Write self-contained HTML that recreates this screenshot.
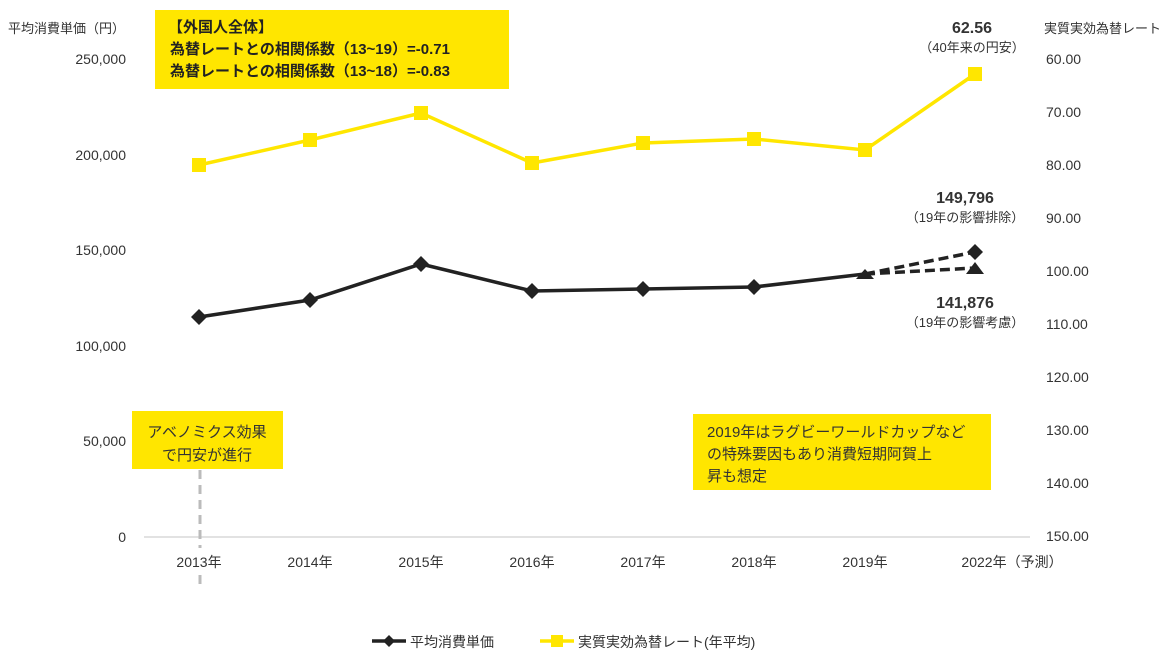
<!DOCTYPE html>
<html><head><meta charset="utf-8"><style>
body{margin:0;background:#fff}
svg{display:block;font-family:"Liberation Sans","Noto Sans CJK JP",sans-serif}
</style></head><body>
<svg width="1173" height="658" viewBox="0 0 1173 658" xmlns="http://www.w3.org/2000/svg">
<line x1="144" y1="537" x2="1030" y2="537" stroke="#d9d9d9" stroke-width="1.5"/>
<line x1="200" y1="470" x2="200" y2="586" stroke="#bbb" stroke-width="3" stroke-dasharray="9,6"/>
<rect x="172" y="548" width="56" height="26" fill="#fff"/>
<g font-size="14" fill="#333">
<text x="8" y="33" font-size="13">平均消費単価（円）</text>
<text x="1044" y="33" font-size="13">実質実効為替レート</text>
<g text-anchor="end" font-size="14">
<text x="126" y="64">250,000</text><text x="126" y="160">200,000</text><text x="126" y="255">150,000</text>
<text x="126" y="351">100,000</text><text x="126" y="446">50,000</text><text x="126" y="542">0</text>
</g>
<g font-size="14">
<text x="1046" y="64">60.00</text><text x="1046" y="117">70.00</text><text x="1046" y="170">80.00</text>
<text x="1046" y="223">90.00</text><text x="1046" y="276">100.00</text><text x="1046" y="329">110.00</text>
<text x="1046" y="382">120.00</text><text x="1046" y="435">130.00</text><text x="1046" y="488">140.00</text>
<text x="1046" y="541">150.00</text>
</g>
<g text-anchor="middle" font-size="14">
<text x="199" y="567">2013年</text><text x="310" y="567">2014年</text><text x="421" y="567">2015年</text>
<text x="532" y="567">2016年</text><text x="643" y="567">2017年</text><text x="754" y="567">2018年</text>
<text x="865" y="567">2019年</text><text x="1012" y="567">2022年（予測）</text>
</g>
</g>
<!-- yellow -->
<polyline points="199,165 310,140 421,113 532,163 643,143 754,139 865,150 975,74" fill="none" stroke="#ffe600" stroke-width="3.5"/>
<g fill="#ffe600">
<rect x="192" y="158" width="14" height="14"/><rect x="303" y="133" width="14" height="14"/><rect x="414" y="106" width="14" height="14"/>
<rect x="525" y="156" width="14" height="14"/><rect x="636" y="136" width="14" height="14"/><rect x="747" y="132" width="14" height="14"/>
<rect x="858" y="143" width="14" height="14"/><rect x="968" y="67" width="14" height="14"/>
</g>
<!-- black -->
<polyline points="199,317 310,300 421,264 532,291 643,289 754,287 865,274" fill="none" stroke="#222" stroke-width="3.5"/>
<line x1="865" y1="274" x2="975" y2="252" stroke="#222" stroke-width="3.5" stroke-dasharray="10,5"/>
<line x1="865" y1="274" x2="975" y2="268" stroke="#222" stroke-width="3.5" stroke-dasharray="10,5"/>
<g fill="#222">
<polygon points="191,317 199,309 207,317 199,325"/><polygon points="302,300 310,292 318,300 310,308"/>
<polygon points="413,264 421,256 429,264 421,272"/><polygon points="524,291 532,283 540,291 532,299"/>
<polygon points="635,289 643,281 651,289 643,297"/><polygon points="746,287 754,279 762,287 754,295"/>
<polygon points="856,279 865,269 874,279"/>
<polygon points="967,252 975,244 983,252 975,260"/>
<polygon points="966,274 975,262 984,274"/>
</g>
<!-- annotations -->
<g text-anchor="middle" fill="#333">
<text x="972" y="33" font-size="16" font-weight="bold">62.56</text>
<text x="972" y="52" font-size="13">（40年来の円安）</text>
<text x="965" y="203" font-size="16" font-weight="bold">149,796</text>
<text x="965" y="222" font-size="13">（19年の影響排除）</text>
<text x="965" y="308" font-size="16" font-weight="bold">141,876</text>
<text x="965" y="327" font-size="13">（19年の影響考慮）</text>
</g>
<rect x="155" y="10" width="354" height="79" fill="#ffe600"/>
<g font-size="15" font-weight="bold" fill="#222">
<text x="168" y="32">【外国人全体】</text>
<text x="170" y="54">為替レートとの相関係数（13~19）=-0.71</text>
<text x="170" y="76">為替レートとの相関係数（13~18）=-0.83</text>
</g>
<rect x="132" y="411" width="151" height="58" fill="#ffe600"/>
<g font-size="15" fill="#333" text-anchor="middle">
<text x="207" y="437">アベノミクス効果</text><text x="207" y="460">で円安が進行</text>
</g>
<rect x="693" y="414" width="298" height="76" fill="#ffe600"/>
<g font-size="15" fill="#333">
<text x="707" y="437">2019年はラグビーワールドカップなど</text>
<text x="707" y="459">の特殊要因もあり消費短期阿賀上</text>
<text x="707" y="481">昇も想定</text>
</g>
<!-- legend -->
<line x1="372" y1="641" x2="406" y2="641" stroke="#222" stroke-width="3.5"/>
<polygon points="383,641 389,635 395,641 389,647" fill="#222"/>
<text x="410" y="647" font-size="14" fill="#333">平均消費単価</text>
<line x1="540" y1="641" x2="574" y2="641" stroke="#ffe600" stroke-width="3.5"/>
<rect x="551" y="635" width="12" height="12" fill="#ffe600"/>
<text x="578" y="647" font-size="14" fill="#333">実質実効為替レート(年平均)</text>
</svg>
</body></html>
